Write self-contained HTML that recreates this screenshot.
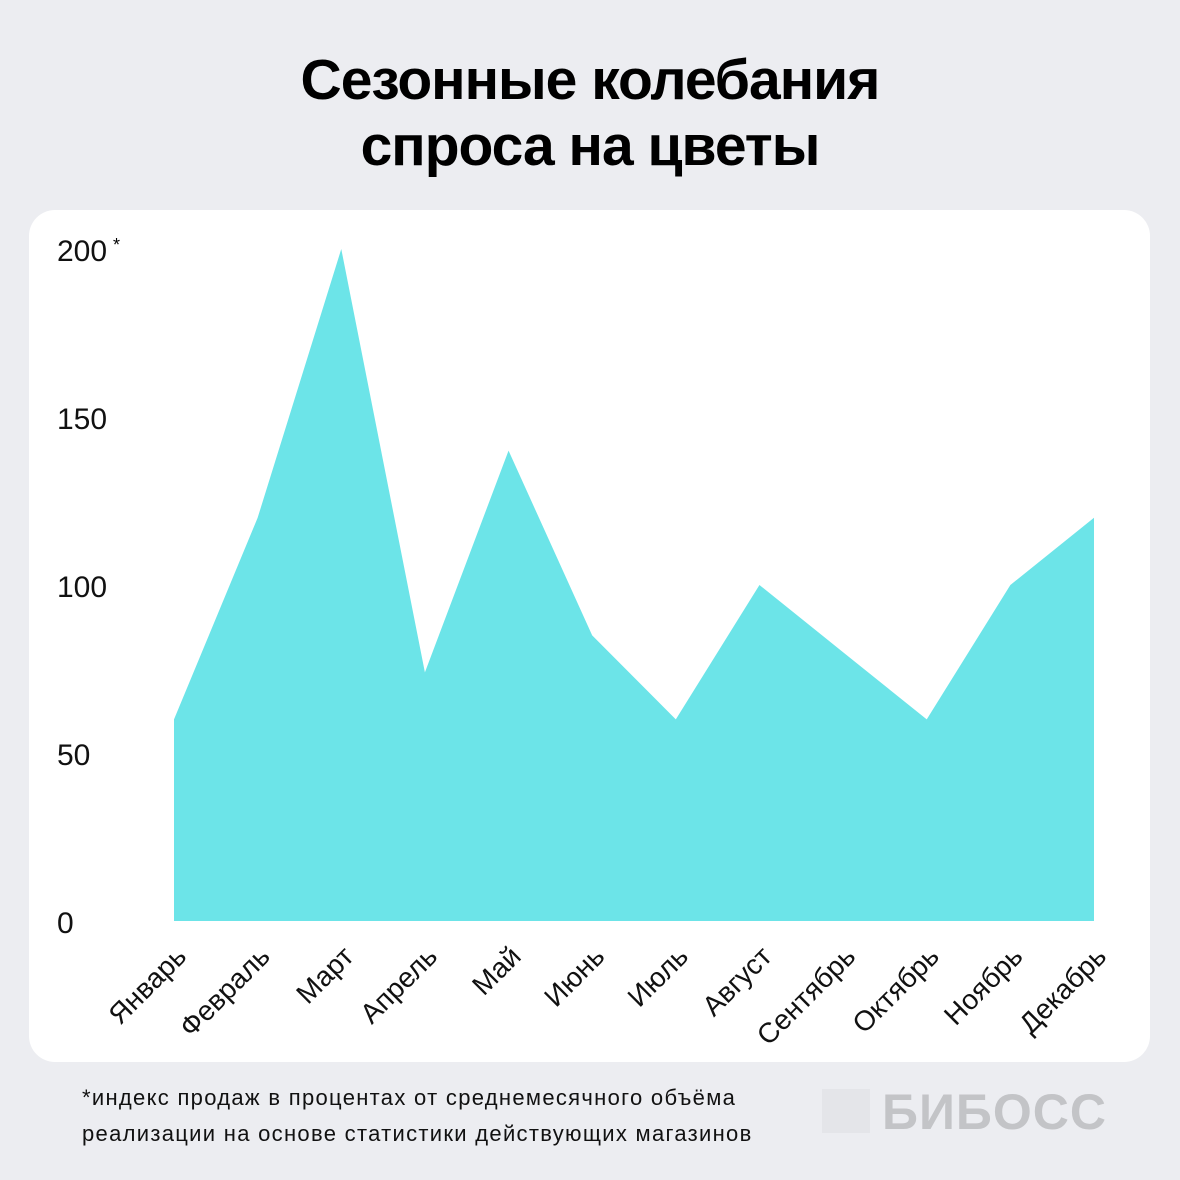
<!DOCTYPE html>
<html><head><meta charset="utf-8"><style>
body{margin:0;width:1180px;height:1180px;background:#ecedf1;font-family:"Liberation Sans","DejaVu Sans",sans-serif;position:relative;overflow:hidden}
#title{position:absolute;top:47px;left:0;width:1180px;text-align:center;font-weight:bold;font-size:57px;line-height:66px;color:#000;letter-spacing:-1px}
#card{position:absolute;left:29px;top:210px;width:1121px;height:852px;background:#fff;border-radius:26px}
#note{position:absolute;left:82px;top:1080px;font-size:22px;letter-spacing:1.3px;line-height:36px;color:#111}
#logo{position:absolute;left:822px;top:1089px;width:300px;height:46px}
svg{position:absolute;left:0;top:0}
</style></head><body>
<div id="title">Сезонные колебания<br>спроса на цветы</div>
<div id="card"></div>
<svg id="chart" width="1180" height="1180"></svg>
<div id="note">*индекс продаж в процентах от среднемесячного объёма<br>реализации на основе статистики действующих магазинов</div>
<div id="logo">
<div style="position:absolute;left:0;top:0;width:48px;height:44px;background:#e4e5e9"></div>
<div style="position:absolute;left:60px;top:-6px;font-weight:bold;font-size:50px;color:#c3c4c7;letter-spacing:1px">БИБОСС</div>
</div>
<script>
const months=["Январь","Февраль","Март","Апрель","Май","Июнь","Июль","Август","Сентябрь","Октябрь","Ноябрь","Декабрь"];
const values=[60,120,200,74,140,85,60,100,80,60,100,120];
const yTicks=[0,50,100,150,200];
const NS="http://www.w3.org/2000/svg";
const svg=document.getElementById('chart');
const x=i=>174+i*(1094-174)/(months.length-1);
const y=v=>921-v*(921-249)/200;
let d=`M${x(0)},${y(0)}`;
values.forEach((v,i)=>{d+=` L${x(i)},${y(v)}`});
d+=` L${x(values.length-1)},${y(0)} Z`;
const p=document.createElementNS(NS,'path');
p.setAttribute('d',d);p.setAttribute('fill','#6ce4e8');


svg.appendChild(p);
yTicks.forEach(t=>{
 const tx=document.createElementNS(NS,'text');
 tx.setAttribute('x',57);tx.setAttribute('y',y(t)+12);
 tx.setAttribute('font-size','30');tx.setAttribute('fill','#111');
 tx.setAttribute('font-family','"Liberation Sans",sans-serif');
 tx.textContent=t;
 
 
 svg.appendChild(tx);
});
const st=document.createElementNS(NS,'text');
st.setAttribute('x',113);st.setAttribute('y',y(200)+2);st.setAttribute('font-size','18');st.textContent='*';


svg.appendChild(st);
months.forEach((m,i)=>{
 const tx=document.createElementNS(NS,'text');
 const ax=x(i)+14,ay=958;
 tx.setAttribute('x',ax);tx.setAttribute('y',ay);
 tx.setAttribute('text-anchor','end');
 tx.setAttribute('transform',`rotate(-45 ${ax} ${ay})`);
 tx.setAttribute('font-size','28');tx.setAttribute('fill','#111');
 tx.setAttribute('font-family','"Liberation Sans",sans-serif');
 tx.textContent=m;
 
 
 svg.appendChild(tx);
});
</script>
</body></html>
